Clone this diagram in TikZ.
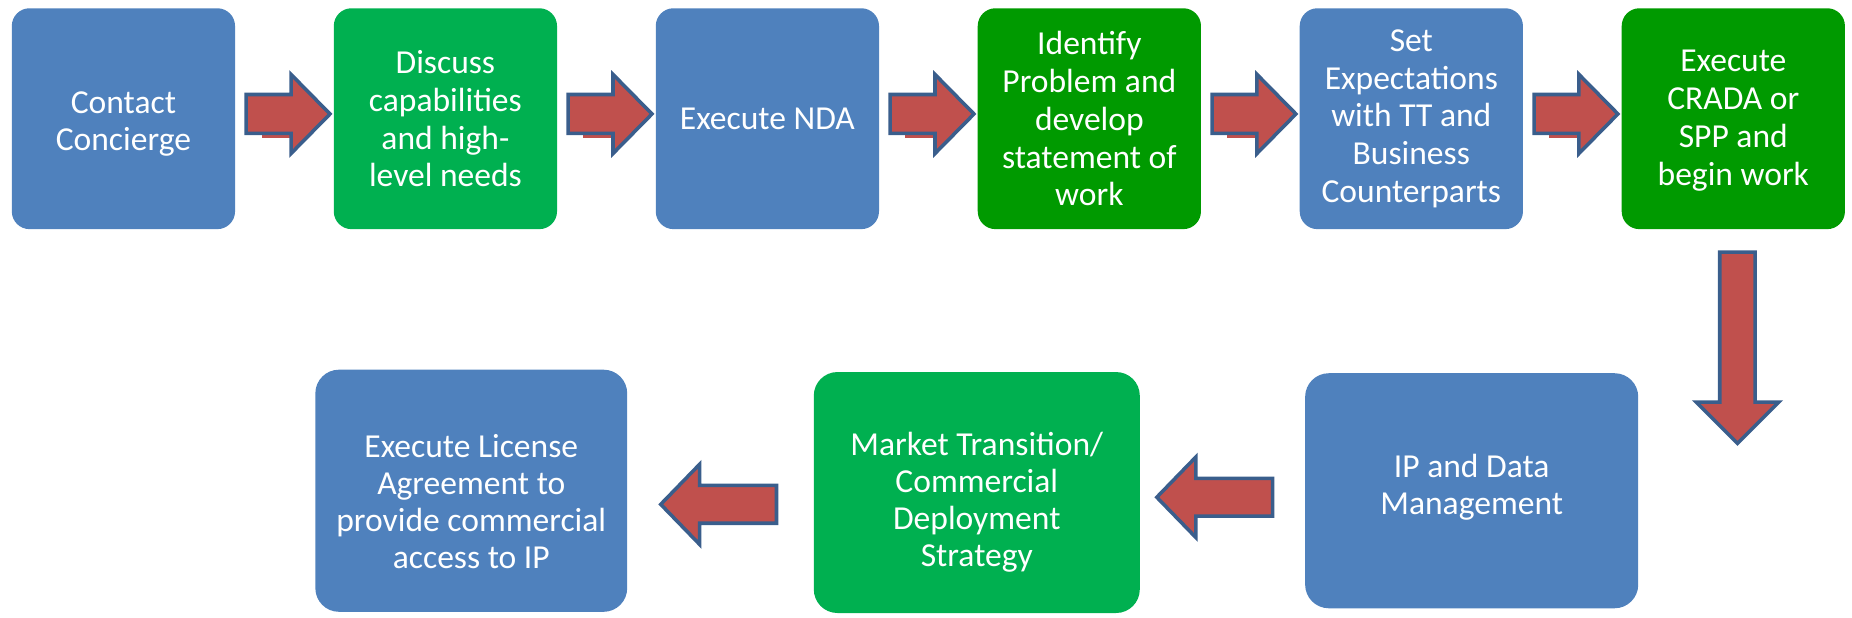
\documentclass[tikz,border=0pt]{standalone}
\usepackage{fontspec}
\setmainfont{Carlito}
\usetikzlibrary{calc}
\definecolor{boxblue}{HTML}{4F81BD}
\definecolor{boxgreen}{HTML}{00B050}
\definecolor{boxdkgreen}{HTML}{009A00}
\definecolor{arrowfill}{HTML}{C0504D}
\definecolor{arrowline}{HTML}{3A5E8C}
\begin{document}
\begin{tikzpicture}[x=0.5pt,y=-0.5pt,
  box/.style={rectangle, rounded corners=7.5pt, minimum width=94.5pt, minimum height=93.5pt,
    inner sep=0pt, text=white, align=center, font=\fontsize{14.2}{16}\selectfont},
  bigbox/.style={rectangle, rounded corners=10pt, inner sep=0pt},
  boxtext/.style={text=white, align=center, inner sep=0pt, font=\fontsize{14.2}{15.6}\selectfont},
  toptext/.style={text=white, align=center, inner sep=0pt, font=\fontsize{14.2}{16}\selectfont},
  blockarrow/.style={fill=arrowfill, draw=arrowline, line width=1.5pt, line join=miter}
]
\useasboundingbox (0,0) rectangle (1568,523);

% top row
\node[box, fill=boxblue]     (b1) at (104.5,100.5) {};
\node[toptext] (b1text) at (104.5,105) {Contact\\Concierge};
\node[box, fill=boxgreen]    (b2) at (377.1,100.5) {Discuss\\capabilities\\and high-\\level needs};
\node[box, fill=boxblue]     (b3) at (649.7,100.5) {Execute NDA};
\node[box, fill=boxdkgreen]  (b4) at (922.3,100.5) {Identify\\Problem and\\develop\\statement of\\work};
\node[box, fill=boxblue]     (b5) at (1194.9,100.5) {Set\\Expectations\\with TT and\\Business\\Counterparts};
\node[box, fill=boxdkgreen]  (b6) at (1467.5,100.5) {};
\node[toptext] (b6text) at (1467.5,102) {Execute\\CRADA or\\SPP and\\begin work};

% bottom row
\node[bigbox, fill=boxblue, minimum width=141pt, minimum height=99.5pt] (ip) at (1246,415.5) {};
\node[boxtext] (iptext) at (1246,412.5) {IP and Data\\Management};
\node[bigbox, fill=boxgreen, minimum width=138pt, minimum height=102pt] (mk) at (827,417) {};
\node[boxtext] (mktext) at (827,425) {Market Transition/\\Commercial\\Deployment\\Strategy};
\node[bigbox, fill=boxblue, minimum width=132pt, minimum height=102.5pt] (lic) at (399,415.5) {};
\node[boxtext] (lictext) at (399,424.5) {Execute License\\Agreement to\\provide commercial\\access to IP};

% right arrows
\foreach \a in {1,...,5}{
  \begin{scope}[shift={($(b\a.east)+(9,-4)$)}]
    \fill[arrowfill] (13,16.5) rectangle (38,20);
    \draw[blockarrow] (0,-16.5) -- (38,-16.5) -- (38,-33.5) -- (71,0) -- (38,33.5) -- (38,16.5) -- (0,16.5) -- cycle;
  \end{scope}
}

% down arrow
\begin{scope}[shift={($(b6.south)+(3.5,19)$)}]
  \draw[blockarrow] (-15,0) -- (15,0) -- (15,127) -- (35,127) -- (0,162) -- (-35,127) -- (-15,127) -- cycle;
\end{scope}

% left arrows
\begin{scope}[shift={($(mk.east)+(14,4)$)}]
  \draw[blockarrow] (0,0) -- (33,-34) -- (33,-16) -- (98,-16) -- (98,16) -- (33,16) -- (33,34) -- cycle;
\end{scope}
\begin{scope}[shift={($(lic.east)+(28,11.5)$)}]
  \draw[blockarrow] (0,0) -- (33,-34) -- (33,-16) -- (98,-16) -- (98,16) -- (33,16) -- (33,34) -- cycle;
\end{scope}
\end{tikzpicture}
\end{document}
